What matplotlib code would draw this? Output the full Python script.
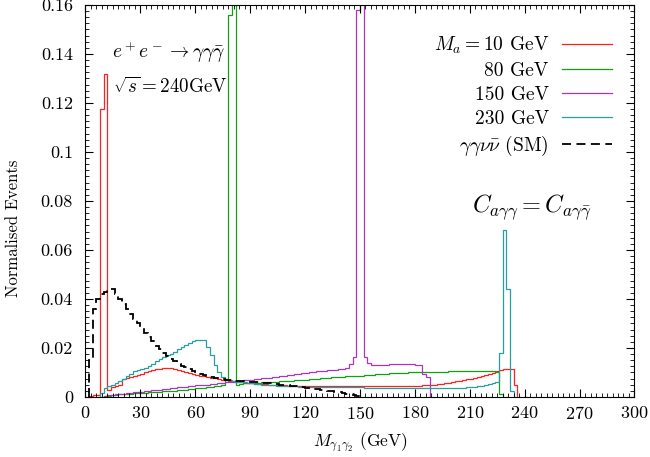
"""Diphoton invariant mass for e+e- -> gamma gamma gamma-bar at 240 GeV,
four ALP masses plus the SM gamma gamma nu nu-bar background."""
import numpy as np
import matplotlib
matplotlib.use("Agg")
import matplotlib.pyplot as plt
from matplotlib.ticker import MultipleLocator, FuncFormatter

plt.rcParams.update({
    "font.family": "cmr10", "mathtext.fontset": "cm",
    "axes.formatter.use_mathtext": True, "font.size": 11,
    "xtick.direction": "in", "ytick.direction": "in",
    "xtick.top": True, "ytick.right": True,
})

BIN = 2.0  # GeV

# (first bin edge, per-bin normalised events)
sm_start = 2
sm_vals = [0.015, 0.036, 0.040, 0.042, 0.043, 0.044, 0.044, 0.042, 0.040, 0.038,
           0.036, 0.034, 0.032, 0.030, 0.028, 0.026, 0.0245, 0.023, 0.021, 0.0195,
           0.018, 0.0167, 0.0155, 0.0145, 0.0136, 0.0128, 0.0121, 0.0114, 0.0107, 0.0101,
           0.0095, 0.009, 0.0086, 0.0082, 0.0079, 0.0076, 0.0073, 0.0071, 0.0069, 0.0067,
           0.0066, 0.0065, 0.0064, 0.0063, 0.0062, 0.0061, 0.006, 0.0059, 0.0058, 0.0057,
           0.0055, 0.0053, 0.0051, 0.0049, 0.0047, 0.0045, 0.0043, 0.0041, 0.0039, 0.0037,
           0.0035, 0.0033, 0.0031, 0.0029, 0.0027, 0.0025, 0.0023, 0.0021, 0.0019, 0.0017,
           0.0014, 0.0011, 0.0008, 0.0005, 0.0003]

ma10_start = 2
ma10_vals = [0.0005, 0.0008, 0.001, 0.1175, 0.132, 0.003, 0.004, 0.0045, 0.005, 0.0072,
             0.0077, 0.008, 0.0085, 0.009, 0.0095, 0.010, 0.0105, 0.011, 0.0113, 0.0116,
             0.0118, 0.0118, 0.0118, 0.0116, 0.0112, 0.0107, 0.0102, 0.0098, 0.0094, 0.009,
             0.0087, 0.0084, 0.0081, 0.0078, 0.0076, 0.0074, 0.0071, 0.0069, 0.0067, 0.0065,
             0.0063, 0.0061, 0.0059, 0.0058, 0.0056, 0.0055, 0.0054, 0.0053, 0.0052, 0.0051,
             0.005, 0.0049, 0.0048, 0.0047, 0.0046, 0.0046, 0.0045, 0.0045, 0.0044, 0.0044,
             0.0044, 0.0044, 0.0044, 0.0043, 0.0043, 0.0043, 0.0043, 0.0043, 0.0043, 0.0043,
             0.0043, 0.0043, 0.0043, 0.0043, 0.0043, 0.0043, 0.0043, 0.0043, 0.0043, 0.0043,
             0.0043, 0.0043, 0.0043, 0.0043, 0.0043, 0.0043, 0.0043, 0.0043, 0.0043, 0.0045,
             0.0046, 0.0047, 0.0048, 0.0049, 0.0051, 0.0053, 0.0055, 0.0057, 0.0059, 0.0062,
             0.0064, 0.0067, 0.0069, 0.0072, 0.0075, 0.0078, 0.0081, 0.0085, 0.0089, 0.0094,
             0.0099, 0.0105, 0.0112, 0.0115, 0.0115, 0.0114, 0.005]

ma80_start = 8
ma80_vals = [0.0002, 0.0004, 0.0006, 0.0008, 0.001, 0.0011, 0.0012, 0.0013, 0.0014, 0.0015,
             0.0016, 0.0017, 0.0018, 0.0019, 0.002, 0.0021, 0.0022, 0.0023, 0.0024, 0.0025,
             0.0026, 0.0028, 0.0029, 0.003, 0.0032, 0.0033, 0.0035, 0.0036, 0.0038, 0.004,
             0.0042, 0.0044, 0.0046, 0.0049, 0.0075, 0.156, 0.2, 0.0049, 0.0055, 0.0056,
             0.0057, 0.0058, 0.0058, 0.0059, 0.006, 0.0061, 0.0062, 0.0062, 0.0063, 0.0064,
             0.0065, 0.0066, 0.0067, 0.0068, 0.0069, 0.007, 0.0071, 0.0073, 0.0074, 0.0075,
             0.0076, 0.0077, 0.0078, 0.008, 0.0081, 0.0082, 0.0083, 0.0084, 0.0085, 0.0086,
             0.0084, 0.0087, 0.0089, 0.009, 0.0091, 0.0092, 0.0093, 0.0094, 0.0095, 0.0096,
             0.0097, 0.0098, 0.0098, 0.0099, 0.01, 0.01, 0.0101, 0.0101, 0.0102, 0.0102,
             0.0103, 0.0103, 0.0104, 0.0104, 0.0104, 0.0105, 0.0105, 0.0105, 0.0106, 0.0106,
             0.0106, 0.0107, 0.0107, 0.0107, 0.0107, 0.0107, 0.0106, 0.0105, 0.0103, 0.0012]

ma150_start = 10
ma150_vals = [0.0003, 0.0008, 0.001, 0.0011, 0.0013, 0.0014, 0.0016, 0.0018, 0.0019, 0.0021,
              0.0022, 0.0024, 0.0026, 0.0027, 0.0029, 0.003, 0.0032, 0.0034, 0.0035, 0.0037,
              0.0039, 0.004, 0.0042, 0.0043, 0.0045, 0.0047, 0.0048, 0.005, 0.0051, 0.0053,
              0.0055, 0.0056, 0.0058, 0.006, 0.0061, 0.0063, 0.0065, 0.0066, 0.0068, 0.007,
              0.0071, 0.0073, 0.0075, 0.0076, 0.0078, 0.0079, 0.0081, 0.0082, 0.0084, 0.0086,
              0.0088, 0.009, 0.0092, 0.0095, 0.0097, 0.0099, 0.0101, 0.0103, 0.0105, 0.0106,
              0.0108, 0.0109, 0.0111, 0.0112, 0.0114, 0.0116, 0.0118, 0.0133, 0.0165, 0.158,
              0.2, 0.0165, 0.014, 0.0132, 0.013, 0.013, 0.0131, 0.0132, 0.0133, 0.0134,
              0.0134, 0.0135, 0.0134, 0.0134, 0.0133, 0.013, 0.013, 0.0095, 0.008]

ma230_start = 8
ma230_vals = [0.0018, 0.0035, 0.0043, 0.005, 0.0058, 0.0065, 0.0075, 0.0085, 0.0095, 0.0105,
              0.011, 0.0115, 0.012, 0.0126, 0.0135, 0.0145, 0.0155, 0.0163, 0.017, 0.0177,
              0.0185, 0.0195, 0.0205, 0.0213, 0.022, 0.0228, 0.0232, 0.0234, 0.0234, 0.0205,
              0.017, 0.013, 0.0103, 0.0083, 0.0072, 0.0068, 0.0065, 0.0063, 0.0061, 0.006,
              0.0058, 0.0057, 0.0055, 0.0053, 0.0051, 0.005, 0.0048, 0.0047, 0.0046, 0.0045,
              0.0044, 0.0044, 0.0043, 0.0043, 0.0042, 0.0042, 0.0042, 0.0042, 0.0042, 0.0042,
              0.0042, 0.0041, 0.0041, 0.0041, 0.0041, 0.004, 0.004, 0.004, 0.004, 0.0039,
              0.0039, 0.0039, 0.0038, 0.0038, 0.0038, 0.0037, 0.0037, 0.0037, 0.0036, 0.0036,
              0.0036, 0.0036, 0.0036, 0.0036, 0.0036, 0.0036, 0.0036, 0.0036, 0.0036, 0.0036,
              0.0036, 0.0036, 0.0036, 0.0036, 0.0036, 0.0036, 0.0036, 0.0036, 0.0037, 0.0038,
              0.0039, 0.004, 0.0042, 0.0044, 0.0046, 0.0049, 0.0052, 0.0057, 0.0063, 0.018,
              0.068, 0.044, 0.0026]

series = [
    (ma10_start, ma10_vals, r"$M_a = 10$ GeV", "#ff2020", "-"),
    (ma80_start, ma80_vals, "80 GeV", "#10a010", "-"),
    (ma150_start, ma150_vals, "150 GeV", "#a838b8", "-"),
    (ma230_start, ma230_vals, "230 GeV", "#259f9f", "-"),
    (sm_start, sm_vals, r"$\gamma\gamma\nu\bar{\nu}$ (SM)", "black", "--"),
]


def main():
    fig = plt.figure(figsize=(6.5, 4.57), dpi=100)
    ax = fig.add_axes([0.1315, 0.1313, 0.8446, 0.8578])

    for start, vals, label, color, ls in series:
        edges = start + BIN * np.arange(len(vals) + 1)
        if ls == "--":
            ax.stairs(vals, edges, color=color, lw=1.3, linestyle=(0, (5, 3)),
                      label=label)
        else:
            ax.stairs(vals, edges, color=color, lw=0.9, label=label)

    ax.set_xlim(0, 300)
    ax.set_ylim(0, 0.16)
    ax.xaxis.set_major_locator(MultipleLocator(30))
    ax.xaxis.set_minor_locator(MultipleLocator(3))
    ax.yaxis.set_major_locator(MultipleLocator(0.02))
    ax.yaxis.set_minor_locator(MultipleLocator(0.0025))
    ax.yaxis.set_major_formatter(FuncFormatter(lambda v, p: f"{v:g}"))
    ax.tick_params(which="major", length=6, width=0.8, labelsize=13)
    ax.tick_params(axis="y", which="major", pad=9)
    ax.tick_params(axis="x", which="major", pad=6)
    ax.tick_params(which="minor", length=3, width=0.6)
    ax.set_xlabel(r"$M_{\gamma_1\gamma_2}$ (GeV)", fontsize=12.5, labelpad=6)
    ax.set_ylabel("Normalised Events", fontsize=12)
    ax.yaxis.set_label_coords(-0.118, 0.43)

    ax.text(0.151, 0.88, r"$e^+e^-\to\gamma\gamma\bar{\gamma}$", transform=ax.transAxes,
            ha="center", va="center", fontsize=14)
    ax.text(0.05, 0.79, r"$\sqrt{s}=240$GeV", transform=ax.transAxes,
            ha="left", va="center", fontsize=13.7)
    ax.text(0.813, 0.483, r"$C_{a\gamma\gamma}=C_{a\gamma\bar{\gamma}}$",
            transform=ax.transAxes, ha="center", va="center", fontsize=17.5)

    ax.legend(loc="upper right", bbox_to_anchor=(0.973, 0.943), markerfirst=False,
              frameon=False, fontsize=14, handlelength=2.57, handletextpad=0.67,
              labelspacing=0.3, borderaxespad=0)

    fig.savefig("out.png", dpi=100, facecolor="white")
    plt.close(fig)


if __name__ == "__main__":
    main()
